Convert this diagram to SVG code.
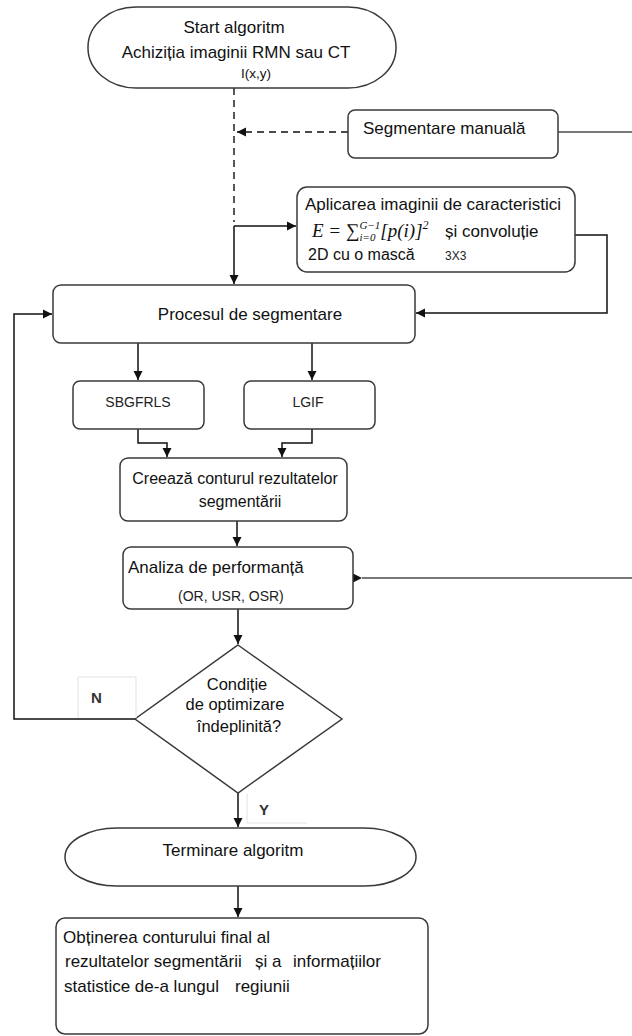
<svg xmlns="http://www.w3.org/2000/svg" width="632" height="1036" viewBox="0 0 632 1036">
<style>
.box{fill:#fff;stroke:#3a3a3a;stroke-width:1.5}
.t{font-family:"Liberation Sans",Arial,sans-serif;font-size:17px;fill:#111}
.c{text-anchor:middle}
.cal{font-family:"Liberation Sans",Arial,sans-serif;font-size:14px;fill:#222}
.ln{fill:none;stroke:#111;stroke-width:1.5}
.gl{fill:none;stroke:#777;stroke-width:2}
.dash{fill:none;stroke:#111;stroke-width:1.4;stroke-dasharray:7 5}
.lab{fill:#fff;stroke:#e2e2e2;stroke-width:1}
</style>
<defs>
<marker id="ah" markerWidth="10" markerHeight="10" refX="9" refY="5" orient="auto" markerUnits="userSpaceOnUse">
<path d="M0,0.5 L9,5 L0,9.5 Z" fill="#111"/>
</marker>
</defs>
<rect width="632" height="1036" fill="#fff"/>

<g id="connectors">
<path class="dash" d="M234,88 V222"/>
<path class="dash" d="M348,132 H237" marker-end="url(#ah)"/>
<path class="gl" d="M558,132 H633 V578 H362"/>
<path d="M362,578 L353,573.5 L353,582.5 Z" fill="#111"/>
<path class="ln" d="M234,226 H296" marker-end="url(#ah)"/>
<path class="ln" d="M234,226 V284" marker-end="url(#ah)"/>
<path class="ln" d="M575,235 H607 V313 H416" marker-end="url(#ah)"/>
<path class="ln" d="M138,343 V380" marker-end="url(#ah)"/>
<path class="ln" d="M312,343 V380" marker-end="url(#ah)"/>
<path class="ln" d="M138,429 V443 H167 V457" marker-end="url(#ah)"/>
<path class="ln" d="M312,429 V443 H282 V457" marker-end="url(#ah)"/>
<path class="ln" d="M237,521 V546" marker-end="url(#ah)"/>
<path class="ln" d="M238,609 V644" marker-end="url(#ah)"/>
<path class="ln" d="M135,719 H14 V314 H52" marker-end="url(#ah)"/>
<path class="ln" d="M238,793 V827" marker-end="url(#ah)"/>
<path class="ln" d="M238,886 V917" marker-end="url(#ah)"/>
</g>

<g id="start">
<rect class="box" x="88" y="7" width="308" height="81" rx="48" ry="40"/>
<text class="t c" x="234" y="33">Start algoritm</text>
<text class="t c" x="236" y="58">Achiziția imaginii RMN sau CT</text>
<text class="t c" x="256" y="78" style="font-size:13.5px">I(x,y)</text>
</g>

<g id="segmentare-manuala">
<rect class="box" x="348" y="110" width="210" height="48" rx="7"/>
<text class="t" x="363" y="134">Segmentare manuală</text>
</g>

<g id="aplicarea">
<rect class="box" x="297" y="187" width="278" height="85" rx="10"/>
<text class="t" x="305" y="210">Aplicarea imaginii de caracteristici</text>
<text x="312" y="237" style="font-family:'Liberation Serif','DejaVu Serif',serif;font-style:italic;font-size:19px;fill:#111">E = ∑<tspan style="font-size:11px" dy="4">i=0</tspan><tspan style="font-size:11px" dx="-16" dy="-12">G−1</tspan><tspan dy="8">[p(i)]</tspan><tspan style="font-size:12px" dy="-8">2</tspan></text>
<text class="t" x="445" y="237">și convoluție</text>
<text class="t" x="308" y="260" style="font-size:16px">2D cu o mască</text>
<text class="cal" x="445" y="260" style="font-size:12px">3X3</text>
</g>

<g id="procesul">
<rect class="box" x="53" y="285" width="362" height="58" rx="8"/>
<text class="t c" x="250" y="320">Procesul de segmentare</text>
</g>

<g id="sbgfrls">
<rect class="box" x="73" y="381" width="131" height="48" rx="7"/>
<text class="cal c" x="138" y="407">SBGFRLS</text>
</g>

<g id="lgif">
<rect class="box" x="244" y="381" width="131" height="48" rx="7"/>
<text class="cal c" x="308" y="407">LGIF</text>
</g>

<g id="creeaza">
<rect class="box" x="120" y="458" width="227" height="63" rx="8"/>
<text class="t c" x="235" y="484" style="font-size:16px">Creează conturul rezultatelor</text>
<text class="t c" x="240" y="507" style="font-size:16px">segmentării</text>
</g>

<g id="analiza">
<rect class="box" x="123" y="547" width="230" height="62" rx="8"/>
<text class="t" x="128" y="573">Analiza de performanță</text>
<text class="cal" x="178" y="601">(OR, USR, OSR)</text>
</g>

<g id="conditie">
<path class="box" d="M238,645 L342,719 L238,793 L135,719 Z"/>
<text class="t c" x="237" y="690" style="font-size:16.5px">Condiție</text>
<text class="t c" x="235" y="710" style="font-size:16.5px">de optimizare</text>
<text class="t c" x="239" y="732" style="font-size:16.5px">îndeplinită?</text>
</g>

<g id="label-n">
<path class="lab" d="M78,718 V677 H136 V718"/>
<text x="91" y="703" style="font-family:'Liberation Sans',Arial,sans-serif;font-size:15px;font-weight:bold;fill:#333">N</text>
</g>

<g id="label-y">
<path class="lab" d="M247,794 V823 H307"/>
<text x="259" y="815" style="font-family:'Liberation Sans',Arial,sans-serif;font-size:15px;font-weight:bold;fill:#333">Y</text>
</g>

<g id="terminare">
<rect class="box" x="65" y="828" width="351" height="58" rx="52" ry="29"/>
<text class="t c" x="233" y="856">Terminare algoritm</text>
</g>

<g id="final">
<rect class="box" x="56" y="918" width="372" height="116" rx="9"/>
<text class="t" x="63" y="943">Obținerea conturului final al</text>
<text class="t" x="65" y="967">rezultatelor segmentării <tspan x="255">și a</tspan><tspan x="293">informațiilor</tspan></text>
<text class="t" x="64" y="992">statistice de-a lungul <tspan x="235">regiunii</tspan></text>
</g>
</svg>
